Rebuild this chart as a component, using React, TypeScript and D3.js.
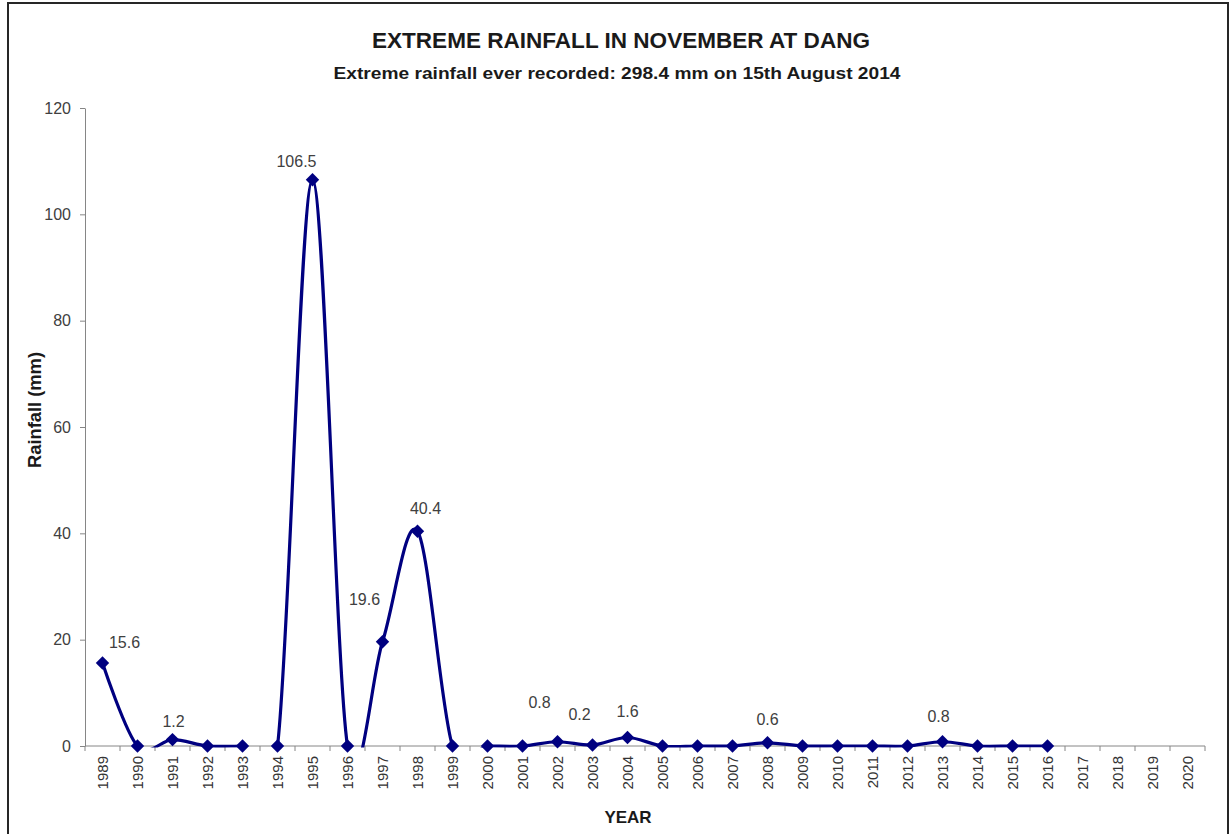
import React, { useEffect, useRef } from "react";
import * as d3 from "d3";

const years = [
  "1989", "1990", "1991", "1992", "1993", "1994", "1995", "1996", "1997", "1998",
  "1999", "2000", "2001", "2002", "2003", "2004", "2005", "2006", "2007", "2008",
  "2009", "2010", "2011", "2012", "2013", "2014", "2015", "2016", "2017", "2018",
  "2019", "2020",
];

// rainfall (mm); null = no data yet
const rainfall: (number | null)[] = [
  15.6, 0, 1.2, 0, 0, 0, 106.5, 0, 19.6, 40.4,
  0, 0, 0, 0.8, 0.2, 1.6, 0, 0, 0, 0.6,
  0, 0, 0, 0, 0.8, 0, 0, 0, null, null,
  null, null,
];

const yTicks = [0, 20, 40, 60, 80, 100, 120];

// label text shown above selected points
const labelledYears = ["1989", "1991", "1995", "1997", "1998", "2002", "2003", "2004", "2008", "2013"];

// manual label nudges (px), like dragged Excel data labels
const labelOffset: Record<string, [number, number]> = {
  "1989": [22, -21],
  "1991": [1, -18],
  "1995": [-16, -18],
  "1997": [-18, -42],
  "1998": [8, -23],
  "2002": [-18, -39],
  "2003": [-13, -31],
  "2004": [0, -26],
  "2008": [0, -23],
  "2013": [-4, -25],
};

const W = 1232;
const H = 834;
const plot = { left: 85, right: 1205, top: 108, bottom: 746 };
const navy = "#000080";
const font = "'Liberation Sans', Arial, sans-serif";

export default function App() {
  const ref = useRef<SVGSVGElement>(null);

  useEffect(() => {
    const svg = d3.select(ref.current);
    svg.selectAll("*").remove();

    // chart frame
    svg.append("rect")
      .attr("x", 8).attr("y", 3)
      .attr("width", 1220).attr("height", 900)
      .attr("fill", "#fff")
      .attr("stroke", "#262626")
      .attr("stroke-width", 2);

    const x = d3.scaleBand().domain(years).range([plot.left, plot.right]).padding(0);
    const y = d3.scaleLinear().domain([0, 120]).range([plot.bottom, plot.top]);
    const cx = (d: string) => x(d)! + x.bandwidth() / 2;

    // titles
    svg.append("text")
      .attr("x", 621).attr("y", 48)
      .attr("text-anchor", "middle")
      .attr("font-family", font).attr("font-weight", "bold").attr("font-size", 22)
      .attr("textLength", 498).attr("lengthAdjust", "spacingAndGlyphs")
      .attr("fill", "#1a1a1a")
      .text("EXTREME RAINFALL IN NOVEMBER AT DANG");
    svg.append("text")
      .attr("x", 617).attr("y", 79)
      .attr("text-anchor", "middle")
      .attr("font-family", font).attr("font-weight", "bold").attr("font-size", 17)
      .attr("textLength", 567).attr("lengthAdjust", "spacingAndGlyphs")
      .attr("fill", "#1a1a1a")
      .text("Extreme rainfall ever recorded: 298.4 mm on 15th August 2014");

    // y axis
    const yAxis = svg.append("g")
      .attr("transform", `translate(${plot.left},0)`)
      .call(d3.axisLeft(y).tickValues(yTicks).tickSize(5).tickPadding(9).tickSizeOuter(0));
    yAxis.select(".domain").attr("stroke", "#868686");
    yAxis.selectAll(".tick line").attr("stroke", "#868686");
    yAxis.selectAll(".tick text")
      .attr("font-family", font).attr("font-size", 16).attr("fill", "#404040");

    svg.append("text")
      .attr("transform", `translate(41,${(352 + 468) / 2}) rotate(-90)`)
      .attr("text-anchor", "middle")
      .attr("font-family", font).attr("font-weight", "bold").attr("font-size", 18)
      .attr("textLength", 116).attr("lengthAdjust", "spacingAndGlyphs")
      .attr("fill", "#1a1a1a")
      .text("Rainfall (mm)");

    // x axis
    const xg = svg.append("g");
    xg.append("line")
      .attr("x1", plot.left).attr("x2", plot.right)
      .attr("y1", y(0)).attr("y2", y(0))
      .attr("stroke", "#868686");
    xg.selectAll("line.tk")
      .data([...years.map((d) => x(d)!), plot.right])
      .join("line")
      .attr("class", "tk")
      .attr("x1", (d) => d).attr("x2", (d) => d)
      .attr("y1", y(0)).attr("y2", y(0) + 5)
      .attr("stroke", "#868686");
    xg.selectAll("text")
      .data(years)
      .join("text")
      .attr("transform", (d) => `translate(${cx(d)},${y(0) + 10}) rotate(-90)`)
      .attr("text-anchor", "end")
      .attr("dy", "0.35em")
      .attr("font-family", font).attr("font-size", 15).attr("fill", "#333")
      .text((d) => d);

    svg.append("text")
      .attr("x", 628).attr("y", 823)
      .attr("text-anchor", "middle")
      .attr("font-family", font).attr("font-weight", "bold").attr("font-size", 17)
      .attr("fill", "#1a1a1a")
      .text("YEAR");

    // series
    const pts = years
      .map((d, i) => ({ year: d, v: rainfall[i] }))
      .filter((p) => p.v !== null) as { year: string; v: number }[];

    svg.append("clipPath").attr("id", "plotclip")
      .append("rect")
      .attr("x", plot.left).attr("y", plot.top - 20)
      .attr("width", plot.right - plot.left)
      .attr("height", plot.bottom - plot.top + 21.5);

    const line = d3.line<{ year: string; v: number }>()
      .x((p) => cx(p.year))
      .y((p) => y(p.v))
      .curve(d3.curveCatmullRom.alpha(0));

    svg.append("path")
      .datum(pts)
      .attr("clip-path", "url(#plotclip)")
      .attr("d", line)
      .attr("fill", "none")
      .attr("stroke", navy)
      .attr("stroke-width", 3.2)
      .attr("stroke-linejoin", "round");

    svg.append("g")
      .selectAll("path")
      .data(pts)
      .join("path")
      .attr("d", d3.symbol(d3.symbolSquare, 90)())
      .attr("transform", (p) => `translate(${cx(p.year)},${y(p.v)}) rotate(45)`)
      .attr("fill", navy);

    // data labels
    svg.append("g")
      .selectAll("text")
      .data(pts.filter((p) => labelledYears.includes(p.year)))
      .join("text")
      .attr("x", (p) => cx(p.year) + labelOffset[p.year][0])
      .attr("y", (p) => y(p.v) + labelOffset[p.year][1])
      .attr("dy", "0.35em")
      .attr("text-anchor", "middle")
      .attr("font-family", font).attr("font-size", 16).attr("fill", "#404040")
      .text((p) => String(p.v));
  }, []);

  return (
    <svg
      ref={ref}
      width={W}
      height={H}
      style={{ position: "absolute", left: 0, top: 0, background: "#fff" }}
    />
  );
}
